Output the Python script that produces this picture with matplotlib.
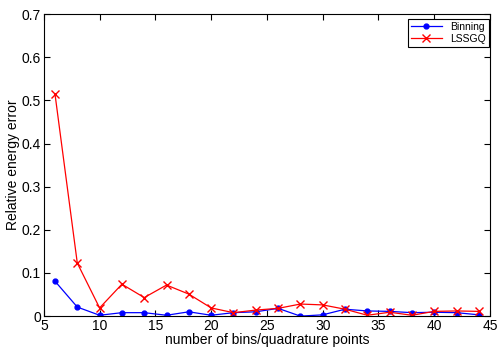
import matplotlib
matplotlib.use("Agg")
import matplotlib.pyplot as plt

plt.rcParams['font.family'] = ['Liberation Sans', 'DejaVu Sans']

n_points = [6, 8, 10, 12, 14, 16, 18, 20, 22, 24, 26, 28, 30, 32, 34, 36, 38, 40, 42, 44]
binning = [0.081, 0.021, 0.002, 0.008, 0.008, 0.002, 0.010, 0.002, 0.008, 0.010,
           0.018, 0.000, 0.003, 0.016, 0.012, 0.011, 0.008, 0.009, 0.008, 0.003]
lssgq = [0.515, 0.123, 0.019, 0.074, 0.043, 0.072, 0.051, 0.019, 0.008, 0.014,
         0.018, 0.028, 0.026, 0.016, 0.002, 0.009, 0.002, 0.011, 0.012, 0.011]

fig = plt.figure(figsize=(4.98, 3.54), dpi=100)
ax = fig.add_axes([0.088, 0.107, 0.896, 0.853])

ax.plot(n_points, binning, color='blue', marker='.', markersize=7, linewidth=0.9, label='Binning')
ax.plot(n_points, lssgq, color='red', marker='x', markersize=6, linewidth=0.9, label='LSSGQ')

ax.set_xlim(5, 45)
ax.set_ylim(0, 0.7)
ax.set_xticks(range(5, 46, 5))
ax.set_yticks([0, 0.1, 0.2, 0.3, 0.4, 0.5, 0.6, 0.7])
ax.set_yticklabels(['0', '0.1', '0.2', '0.3', '0.4', '0.5', '0.6', '0.7'])
ax.tick_params(direction='in', top=True, right=True, labelsize=10, length=4, pad=2)
for s in ax.spines.values():
    s.set_linewidth(0.8)

ax.set_xlabel('number of bins/quadrature points', fontsize=10, labelpad=0)
ax.set_ylabel('Relative energy error', fontsize=10, labelpad=1)

leg = ax.legend(loc='upper right', bbox_to_anchor=(0.998, 0.985), borderaxespad=0,
                fontsize=7.5, fancybox=False, framealpha=1,
                edgecolor='black', handlelength=3, borderpad=0.3, labelspacing=0.2)
leg.get_frame().set_linewidth(0.8)

fig.savefig('out.png', dpi=100)
